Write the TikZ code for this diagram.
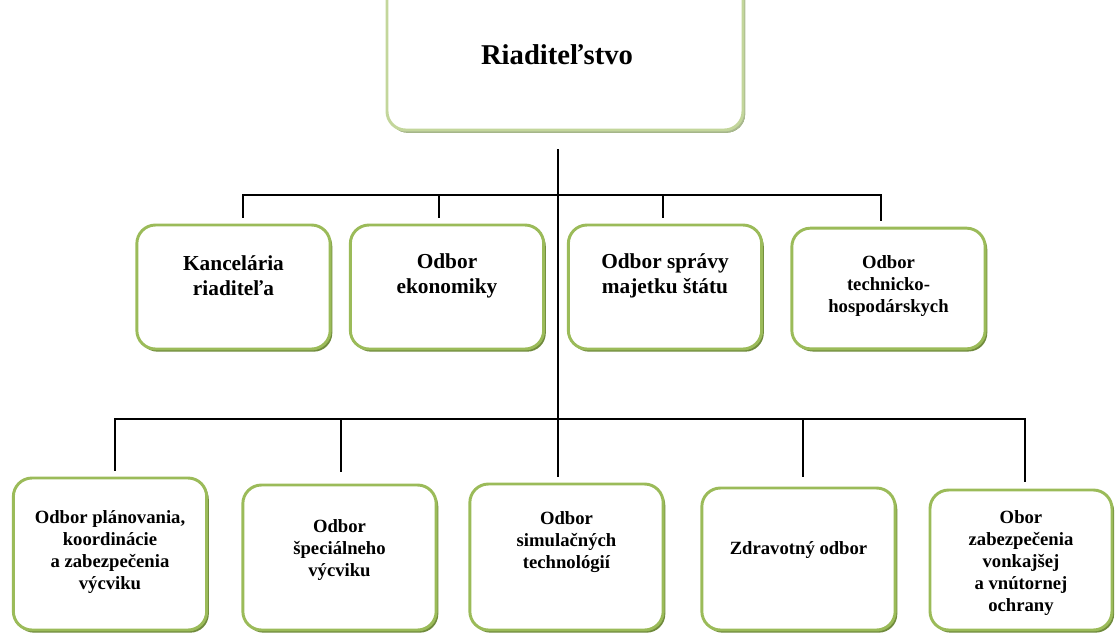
\documentclass[tikz,border=0pt]{standalone}
\usepackage{fontspec}
\setmainfont{Liberation Serif}
\usepackage{xcolor}
\usetikzlibrary{shadows}

\definecolor{boxgreen}{HTML}{9BBB59}
\definecolor{shadegreen}{HTML}{6F8A3C}
\definecolor{palegreen}{HTML}{C3D69B}
\definecolor{paleshade}{HTML}{A9B98F}

\begin{document}
\begin{tikzpicture}[x=0.75pt,y=-0.75pt,
  unit/.style={draw=boxgreen, line width=2.2pt, rounded corners=14pt, fill=white,
    minimum width=145pt,
    drop shadow={shadow xshift=1.6pt, shadow yshift=-2pt, fill=shadegreen, opacity=1}},
  head/.style={unit, draw=palegreen,
    drop shadow={shadow xshift=1.6pt, shadow yshift=-2pt, fill=paleshade, opacity=1}},
  bigtxt/.style={font=\bfseries\fontsize{16}{19}\selectfont, align=center},
  smalltxt/.style={font=\bfseries\fontsize{14}{16.5}\selectfont, align=center},
  link/.style={draw=black, line width=1.2pt}]
  \useasboundingbox (0,0) rectangle (1115,633);

  % Top box (cut off at the upper edge)
  \node[head, minimum width=267pt, minimum height=142.5pt] (dir) at (565,35) {};
  \node[font=\bfseries\fontsize{21.5}{25}\selectfont] (dir-t) at (557,55) {Riaditeľstvo};

  % Upper row
  \node[unit, minimum height=93pt] (kanc) at (233.5,287) {};
  \node[unit, minimum height=93pt] (ekon) at (447,287) {};
  \node[unit, minimum height=93pt] (sprava) at (665,287) {};
  \node[unit, minimum height=90.5pt] (tech) at (888.5,288.5) {};

  \node[bigtxt] (kanc-t) at (233.5,276) {Kancelária\\riaditeľa};
  \node[bigtxt] (ekon-t) at (447,276) {Odbor\\ekonomiky};
  \node[bigtxt] (sprava-t) at (665,276) {Odbor správy\\majetku štátu};
  \node[smalltxt] (tech-t) at (888.5,286) {Odbor\\technicko-\\hospodárskych};

  % Lower row
  \node[unit, minimum height=114pt] (plan) at (110,554) {};
  \node[unit, minimum height=108.75pt] (spec) at (339.5,557.5) {};
  \node[unit, minimum height=109.5pt] (sim) at (566.5,557) {};
  \node[unit, minimum height=106.5pt] (zdrav) at (798.5,559) {};
  \node[unit, minimum width=136.5pt, minimum height=105pt] (ochr) at (1021,560) {};

  \node[smalltxt] (plan-t) at (110,552) {Odbor plánovania,\\koordinácie\\a zabezpečenia\\výcviku};
  \node[smalltxt] (spec-t) at (339.5,550) {Odbor\\špeciálneho\\výcviku};
  \node[smalltxt] (sim-t) at (566.5,542) {Odbor\\simulačných\\technológií};
  \node[smalltxt] (zdrav-t) at (798.5,550) {Zdravotný odbor};
  \node[smalltxt] (ochr-t) at (1021,563) {Obor\\zabezpečenia\\vonkajšej\\a vnútornej\\ochrany};

  % Bus lines
  \coordinate (upbus) at (558,195);
  \coordinate (lowbus) at (558,419);

  \draw[link, shorten <=13.5pt, shorten >=4.5pt] (dir.south -| upbus) -- (sim.north -| upbus);

  \foreach \n/\dx in {kanc/7pt, ekon/-6pt, sprava/-1.5pt, tech/-5.5pt} {
    \draw[link, shorten >=4pt] (upbus) -| ([xshift=\dx]\n.north);
  }
  \foreach \n/\dx/\gap in {plan/3.8pt/4pt, spec/1pt/9pt, zdrav/3.4pt/7.5pt, ochr/3pt/5pt} {
    \draw[link, shorten >=\gap] (lowbus) -| ([xshift=\dx]\n.north);
  }
\end{tikzpicture}
\end{document}
